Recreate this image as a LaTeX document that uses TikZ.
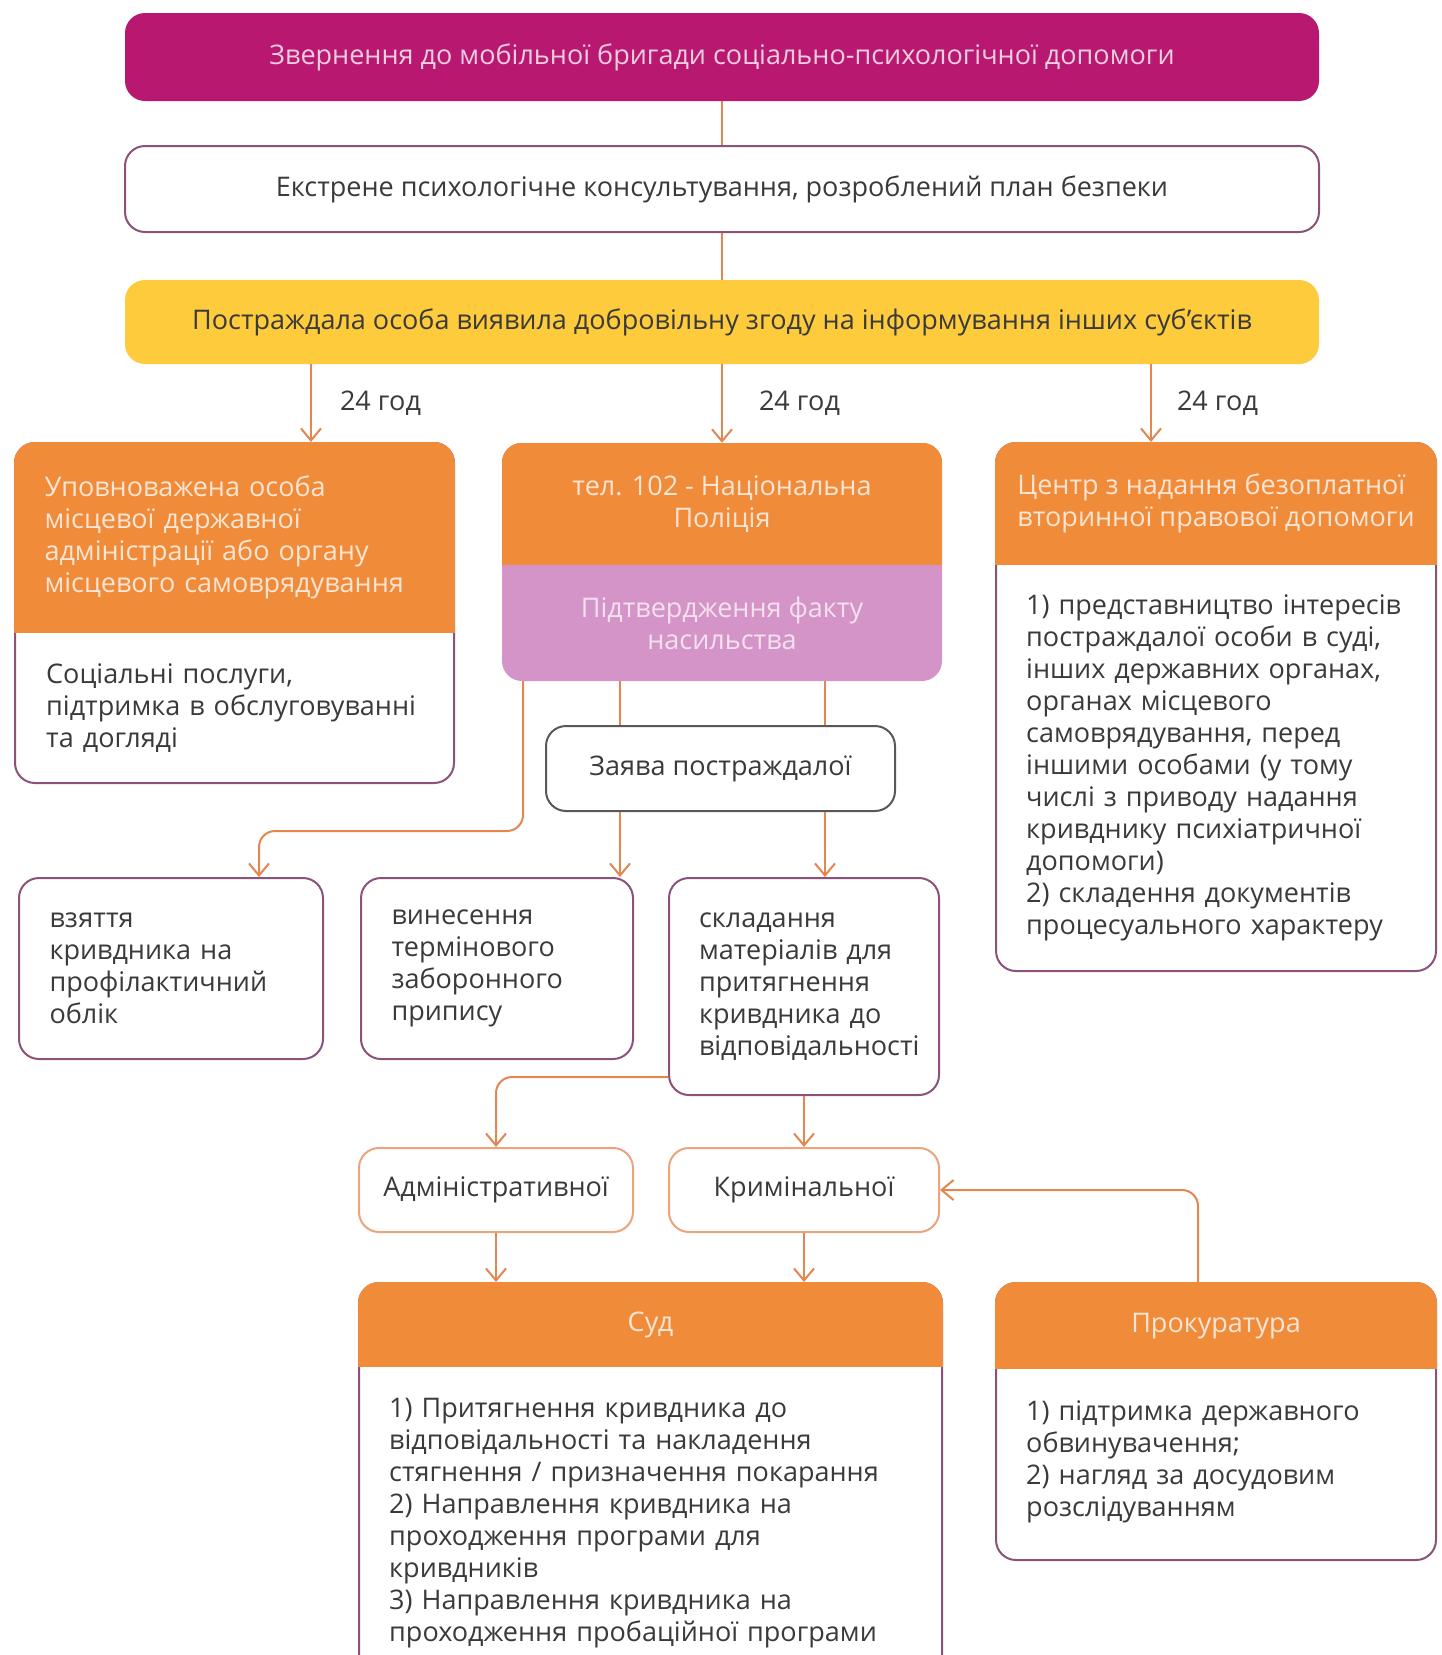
\documentclass[tikz,border=0pt]{standalone}
\usepackage{fontspec}
\setmainfont{Open Sans}
\usetikzlibrary{arrows.meta,positioning}

\definecolor{brigade}{RGB}{184,24,112}
\definecolor{consent}{RGB}{253,203,60}
\definecolor{agency}{RGB}{240,139,58}
\definecolor{lilac}{RGB}{213,148,200}
\definecolor{rim}{RGB}{140,82,122}
\definecolor{wire}{RGB}{228,134,80}
\definecolor{ink}{RGB}{58,58,58}

\tikzset{
    every node/.style={font=\fontsize{27}{32}\selectfont, inner sep=0pt, text=ink},
    band/.style={rounded corners=20pt, minimum width=1194pt, minimum height=#1},
    card/.style={draw=rim, line width=2pt, fill=white, rounded corners=20pt},
    headbar/.style={fill=agency, anchor=north, text=white!78!agency},
    link/.style={draw=wire, line width=2pt},
    >={Straight Barb[length=12pt,width=20pt]},
}

\begin{document}
\begin{tikzpicture}[x=1pt, y=-1pt]
    \useasboundingbox (0,0) rectangle (1442,1655);
    \clip (0,0) rectangle (1442,1655);

    % Top chain
    \node[band=88pt, fill=brigade, text=white!78!brigade] (brig) at (722,57) {Звернення до мобільної бригади соціально-психологічної допомоги};
    \node[band=86pt, draw=rim, line width=2pt, fill=white] (consult) at (722,189) {Екстрене психологічне консультування, розроблений план безпеки};
    \node[band=84pt, fill=consent] (consent) at (722,322) {Постраждала особа виявила добровільну згоду на інформування інших суб’єктів};
    \draw[link] (brig) -- (consult);
    \draw[link] (consult) -- (consent);

    % Local administration
    \node[card, minimum width=439pt, minimum height=340pt] (upov) at (234.5,613) {};
    \begin{scope}
        \clip[rounded corners=21pt] (upov.north west) rectangle (upov.south east);
        \node[headbar, minimum width=441pt, minimum height=191pt, text width=380pt, align=left] (upovh) at (upov.north) {Уповноважена особа\\місцевої державної\\адміністрації або органу\\місцевого самоврядування};
    \end{scope}
    \node[anchor=west, text width=380pt, align=left] (upovb) at (46,708) {Соціальні послуги,\\підтримка в обслуговуванні\\та догляді};

    % Police
    \node[fill=lilac, rounded corners=20pt, minimum width=440pt, minimum height=238pt] (police) at (722,562) {};
    \begin{scope}
        \clip[rounded corners=20pt] (police.north west) rectangle (police.south east);
        \node[headbar, minimum width=440pt, minimum height=122pt, align=center] (policeh) at (police.north) {тел. 102 - Національна\\Поліція};
    \end{scope}
    \node[align=center, text=white!72!lilac] (policeb) at (722,623) {Підтвердження факту\\насильства};

    % Legal aid centre
    \node[card, minimum width=440pt, minimum height=528pt] (centr) at (1216,707) {};
    \begin{scope}
        \clip[rounded corners=21pt] (centr.north west) rectangle (centr.south east);
        \node[headbar, minimum width=442pt, minimum height=123pt, align=left] (centrh) at (centr.north) {Центр з надання безоплатної\\вторинної правової допомоги};
    \end{scope}
    \node[anchor=west, text width=390pt, align=left] (centrb) at (1026,768) {1) представництво інтересів\\постраждалої особи в суді,\\інших державних органах,\\органах місцевого\\самоврядування, перед\\іншими особами (у тому\\числі з приводу надання\\кривднику психіатричної\\допомоги)\\2) складення документів\\процесуального характеру};

    % 24 hours
    \coordinate (tapA) at (311,0);
    \coordinate (tapB) at (722,0);
    \coordinate (tapC) at (1151,0);
    \draw[link,->] (consent.south -| tapA) -- node[right=28pt] (hourA) {24 год} (upov.north -| tapA);
    \draw[link,->] (consent.south -| tapB) -- node[right=36pt] (hourB) {24 год} (police.north -| tapB);
    \draw[link,->] (consent.south -| tapC) -- node[right=25pt] (hourC) {24 год} (centr.north -| tapC);

    % Statement and police measures
    \node[card, draw=ink!85, minimum width=349pt, minimum height=85pt] (zayava) at (720.5,768.5) {Заява постраждалої};
    \node[card, minimum width=304pt, minimum height=181pt, text width=243pt, align=left] (vzy) at (171,968.5) {взяття\\кривдника на\\профілактичний\\облік};
    \node[card, minimum width=272pt, minimum height=181pt, text width=211pt, align=left] (vyn) at (497,968.5) {винесення\\термінового\\заборонного\\припису};
    \node[card, minimum width=270pt, minimum height=217pt, text width=210pt, align=left] (sklad) at (804,986.5) {складання\\матеріалів для\\притягнення\\кривдника до\\відповідальності};

    \coordinate (tapL) at (620,0);
    \coordinate (tapR) at (825,0);
    \coordinate (tapP) at (523,0);
    \coordinate (bendV) at (259,831);
    \draw[link] (police.south -| tapL) -- (zayava.north -| tapL);
    \draw[link] (police.south -| tapR) -- (zayava.north -| tapR);
    \draw[link,->] (zayava.south -| tapL) -- (vyn.north -| tapL);
    \draw[link,->] (zayava.south -| tapR) -- (sklad.north -| tapR);
    \draw[link,->,rounded corners=16pt] (police.south -| tapP) |- (bendV) -- (vzy.north -| bendV);

    % Kinds of liability
    \node[card, draw=wire!75, minimum width=274pt, minimum height=84pt] (admin) at (496,1190) {Адміністративної};
    \node[card, draw=wire!75, minimum width=270pt, minimum height=84pt] (krym) at (804,1190) {Кримінальної};
    \coordinate (turnA) at (0,1077);
    \draw[link,->,rounded corners=16pt] (sklad.west |- turnA) -| (admin.north);
    \draw[link,->] (sklad) -- (krym);

    % Court
    \node[card, minimum width=583pt, minimum height=560pt] (sud) at (650.5,1563) {};
    \begin{scope}
        \clip[rounded corners=21pt] (sud.north west) rectangle (sud.south east);
        \node[headbar, minimum width=585pt, minimum height=85pt] (sudh) at (sud.north) {Суд};
    \end{scope}
    \node[anchor=north west, text width=540pt, align=left] (sudb) at (389,1398) {1) Притягнення кривдника до\\відповідальності та накладення\\стягнення / призначення покарання\\2) Направлення кривдника на\\проходження програми для\\кривдників\\3) Направлення кривдника на\\проходження пробаційної програми};

    % Prosecutor
    \node[card, minimum width=440pt, minimum height=277pt] (prok) at (1216,1421.5) {};
    \begin{scope}
        \clip[rounded corners=21pt] (prok.north west) rectangle (prok.south east);
        \node[headbar, minimum width=442pt, minimum height=87pt] (prokh) at (prok.north) {Прокуратура};
    \end{scope}
    \node[anchor=west, text width=380pt, align=left] (prokb) at (1026,1462) {1) підтримка державного\\обвинувачення;\\2) нагляд за досудовим\\розслідуванням};

    \coordinate (tapK) at (1198,0);
    \draw[link,->] (admin) -- (admin |- sud.north);
    \draw[link,->] (krym) -- (krym |- sud.north);
    \draw[link,->,rounded corners=16pt] (prok.north -| tapK) |- (krym.east);
\end{tikzpicture}
\end{document}
